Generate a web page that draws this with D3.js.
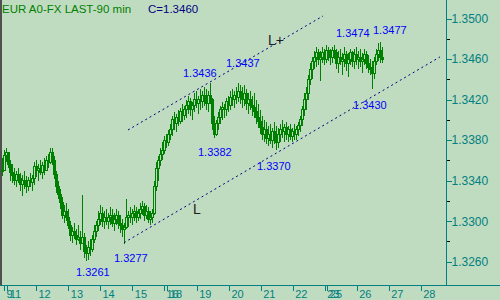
<!DOCTYPE html>
<html>
<head>
<meta charset="utf-8">
<script src="https://cdn.jsdelivr.net/npm/d3@7"></script>
<style>
  html, body { margin: 0; padding: 0; background: #c0dcc0; }
  svg { display: block; font-family: "Liberation Sans", Arial, sans-serif; }
</style>
</head>
<body>
<div id="chart"></div>
<script>
// DATA
// 90 minute bars, prices in pips (1/10000)
var high = [13362,13370,13372,13368,13360,13356,13352,13350,13352,13348,
            13346,13350,13345,13344,13348,13346,13358,13360,13356,13360,
            13358,13362,13364,13366,13372,13372,13364,13350,13340,13332,
            13324,13316,13318,13312,13300,13294,13298,13292,13296,13290,
            13326,13288,13276,13280,13282,13286,13296,13300,13310,13316,
            13314,13310,13312,13308,13314,13312,13308,13312,13310,13306,
            13302,13298,13322,13310,13314,13312,13316,13314,13312,13318,
            13320,13318,13316,13314,13310,13312,13340,13358,13364,13372,
            13378,13384,13386,13390,13396,13404,13408,13406,13410,13412,
            13416,13414,13420,13424,13422,13418,13426,13428,13424,13430,
            13428,13432,13430,13428,13436,13422,13404,13400,13408,13414,
            13418,13416,13422,13424,13428,13430,13428,13432,13436,13434,
            13432,13434,13430,13426,13428,13424,13426,13420,13416,13410,
            13404,13400,13398,13394,13396,13392,13398,13394,13392,13396,
            13400,13396,13398,13394,13396,13392,13396,13394,13398,13404,
            13414,13426,13432,13444,13456,13462,13468,13472,13470,13468,
            13472,13470,13474,13472,13470,13472,13474,13470,13468,13470,
            13466,13472,13468,13466,13470,13468,13470,13472,13468,13470,
            13466,13470,13468,13464,13460,13458,13462,13470,13476,13477,
            13472];
var low  = [13345,13352,13358,13352,13340,13338,13336,13334,13338,13330,
            13325,13332,13328,13330,13334,13330,13336,13344,13340,13346,
            13342,13346,13350,13352,13356,13355,13342,13328,13322,13312,
            13302,13298,13300,13292,13280,13278,13282,13276,13280,13272,
            13278,13264,13261,13262,13266,13270,13278,13284,13290,13296,
            13294,13292,13296,13292,13296,13294,13290,13296,13292,13288,
            13284,13277,13292,13294,13298,13296,13300,13298,13300,13302,
            13306,13300,13302,13298,13296,13298,13306,13330,13340,13354,
            13360,13366,13372,13374,13380,13384,13390,13388,13394,13396,
            13398,13400,13402,13406,13404,13400,13408,13412,13406,13410,
            13412,13414,13410,13408,13416,13390,13382,13384,13390,13396,
            13400,13402,13404,13408,13410,13414,13412,13416,13418,13416,
            13412,13414,13410,13406,13410,13404,13402,13396,13392,13386,
            13380,13378,13376,13374,13376,13372,13376,13370,13372,13378,
            13382,13378,13380,13378,13380,13378,13380,13380,13384,13388,
            13394,13404,13410,13420,13434,13440,13450,13452,13454,13438,
            13456,13454,13456,13458,13454,13456,13460,13450,13446,13454,
            13444,13452,13448,13442,13454,13452,13450,13454,13450,13452,
            13446,13454,13450,13446,13444,13430,13440,13454,13458,13456,
            13456];
var close = [13350,13365,13368,13356,13348,13345,13340,13346,13342,13336,
             13340,13338,13334,13340,13338,13342,13354,13350,13352,13348,
             13355,13350,13360,13358,13368,13360,13346,13334,13326,13318,
             13306,13310,13304,13296,13286,13290,13286,13282,13284,13278,
             13284,13270,13268,13274,13272,13282,13290,13296,13302,13308,
             13300,13304,13300,13304,13306,13298,13302,13306,13298,13296,
             13292,13294,13304,13306,13304,13308,13310,13304,13308,13312,
             13314,13306,13310,13302,13304,13308,13334,13352,13360,13366,
             13370,13380,13378,13386,13390,13400,13396,13402,13398,13408,
             13404,13410,13414,13418,13410,13414,13420,13416,13420,13418,
             13424,13420,13416,13424,13420,13396,13386,13396,13402,13410,
             13412,13410,13418,13414,13422,13420,13424,13422,13428,13424,
             13420,13426,13416,13420,13414,13412,13408,13402,13398,13392,
             13386,13390,13382,13386,13380,13388,13384,13378,13386,13390,
             13388,13392,13386,13390,13384,13388,13386,13390,13394,13400,
             13410,13420,13426,13440,13450,13458,13462,13466,13460,13462,
             13466,13460,13468,13464,13462,13468,13466,13456,13462,13458,
             13460,13464,13456,13460,13466,13458,13464,13460,13462,13458,
             13460,13464,13456,13452,13450,13446,13458,13464,13468,13462,
             13460];

// day separators on the time axis (bar position, label)
var dayBars   = [1, 2.6, 17, 33.15, 49, 65.15, 81, 82.65, 97.35, 113.5, 129.35, 145.35, 161.35, 162.65, 177.35, 193.35, 209.35];
var dayLabels = ["9", "11", "12", "13", "14", "15", "16", "18", "19", "20", "21", "22", "23", "25", "26", "27", "28"];

// price axis
var priceTicks = [1.3260, 1.3300, 1.3340, 1.3380, 1.3420, 1.3460, 1.3500];
var minorTicks = [1.3280, 1.3320, 1.3360, 1.3400, 1.3440, 1.3480];

// trend lines: [bar, price] pairs
var upperLine = [[63, 1.3390], [160.5, 1.35025]];
var lowerLine = [[61, 1.32788], [219, 1.34621]];

// marked highs / lows
var noteValue = [1.3436, 1.3437, 1.3474, 1.3477, 1.3430, 1.3382, 1.3370, 1.3261, 1.3277];
var noteBar   = [104, 113, 166, 189, 185, 106, 137, 42, 61];

var lastClose = 1.3460;

// LAYOUT
var width = 500, height = 300,
    axisX = 446.5, axisY = 285.5;

var x = d3.scaleLinear().domain([0, 219]).range([2, 440]);
var y = d3.scaleLinear().domain([1.3260, 1.3500]).range([261.7, 18.5]);

var green = "#008000", teal = "#008080", blue = "#0000ff", navy = "#000080", bg = "#c0dcc0";

var svg = d3.select("#chart").append("svg")
    .attr("width", width)
    .attr("height", height);

svg.append("rect")
    .attr("width", width).attr("height", height)
    .attr("fill", bg);

svg.append("rect")
    .attr("x", 0).attr("y", 0)
    .attr("width", 2).attr("height", axisY)
    .attr("fill", "#505050");

// Bars
var bars = high.map(function(h, i) {
    // FX bars open at the prior close
    return { i: i, h: h / 1e4, l: low[i] / 1e4, c: close[i] / 1e4, o: (i > 0 ? close[i - 1] : close[i]) / 1e4 };
});

var g = svg.append("g").attr("shape-rendering", "crispEdges");

g.selectAll(".wick")
    .data(bars)
  .enter().append("line")
    .attr("class", "wick")
    .attr("x1", function(d) { return Math.round(x(d.i)) + 0.5; })
    .attr("x2", function(d) { return Math.round(x(d.i)) + 0.5; })
    .attr("y1", function(d) { return y(d.h); })
    .attr("y2", function(d) { return y(d.l); })
    .attr("stroke", green)
    .attr("stroke-width", 1);

g.selectAll(".body")
    .data(bars)
  .enter().append("rect")
    .attr("class", "body")
    .attr("x", function(d) { return Math.round(x(d.i)) - 0.5; })
    .attr("width", 2)
    .attr("y", function(d) { return y(Math.max(d.o, d.c)); })
    .attr("height", function(d) { return Math.max(1, Math.abs(y(d.o) - y(d.c))); })
    .attr("fill", function(d) { return d.c >= d.o ? bg : green; })
    .attr("stroke", green)
    .attr("stroke-width", 1);

// Trend lines
[upperLine, lowerLine].forEach(function(pts) {
    svg.append("line")
        .attr("x1", x(pts[0][0])).attr("y1", y(pts[0][1]))
        .attr("x2", x(pts[1][0])).attr("y2", y(pts[1][1]))
        .attr("stroke", navy)
        .attr("stroke-width", 1)
        .attr("stroke-dasharray", "2,3");
});

function lineAt(pts, b) {
    var t = (b - pts[0][0]) / (pts[1][0] - pts[0][0]);
    return pts[0][1] + t * (pts[1][1] - pts[0][1]);
}

svg.append("text")
    .attr("x", x(133)).attr("y", y(lineAt(upperLine, 133)) - 3)
    .attr("font-size", 14).attr("fill", "#202020")
    .text("L+");

svg.append("text")
    .attr("x", x(95.5)).attr("y", y(lineAt(lowerLine, 95.5)) + 12)
    .attr("font-size", 14).attr("fill", "#202020")
    .text("L");

// Notes
var noteOffset = [[-27, -6.5], [-2, -15], [2, -7.5], [-7, -8], [-19, 19.5], [-16, 18], [-19, 20], [-10, 15.5], [-10, 17.5]];

svg.selectAll(".note")
    .data(noteValue)
  .enter().append("text")
    .attr("class", "note")
    .attr("x", function(d, i) { return x(noteBar[i]) + noteOffset[i][0]; })
    .attr("y", function(d, i) { return y(d) + noteOffset[i][1]; })
    .attr("font-size", 11)
    .attr("fill", blue)
    .text(function(d) { return d3.format(".4f")(d); });

// Axes
svg.append("line")
    .attr("x1", 0).attr("x2", width)
    .attr("y1", axisY).attr("y2", axisY)
    .attr("stroke", teal);

svg.append("line")
    .attr("x1", axisX).attr("x2", axisX)
    .attr("y1", 0).attr("y2", axisY)
    .attr("stroke", teal);

var yAxis = svg.append("g")
    .attr("transform", "translate(" + axisX + ",0)")
    .call(d3.axisRight(y).tickValues(priceTicks).tickSize(5).tickFormat(d3.format(".4f")));

svg.append("g")
    .attr("transform", "translate(" + axisX + ",0)")
    .call(d3.axisRight(y).tickValues(minorTicks).tickSize(3).tickFormat(""))
    .call(function(a) { a.select(".domain").remove(); });

yAxis.select(".domain").remove();
yAxis.selectAll("line").attr("stroke", teal);
yAxis.selectAll("text")
    .attr("x", 5)
    .attr("fill", teal)
    .attr("font-size", 12)
    .attr("font-family", "Liberation Sans, Arial, sans-serif");

var xAxis = svg.append("g")
    .attr("transform", "translate(0," + axisY + ")")
    .call(d3.axisBottom(x).tickValues(dayBars).tickSize(5)
        .tickFormat(function(d, i) { return dayLabels[i]; }));

xAxis.select(".domain").remove();
xAxis.selectAll("line").attr("stroke", teal);
xAxis.selectAll("text")
    .attr("text-anchor", "start")
    .attr("x", 2)
    .attr("y", 5)
    .attr("fill", teal)
    .attr("font-size", 11)
    .attr("font-family", "Liberation Sans, Arial, sans-serif");

svg.selectAll("g.tick line").attr("shape-rendering", "crispEdges");
svg.selectAll("line").filter(function() { return !this.getAttribute("stroke-dasharray"); })
    .attr("shape-rendering", "crispEdges");

// Title
svg.append("text")
    .attr("x", 2).attr("y", 12.5)
    .attr("font-size", 11.5)
    .attr("fill", green)
    .text("EUR A0-FX LAST-90 min");

svg.append("text")
    .attr("x", 148).attr("y", 12.5)
    .attr("font-size", 11.5)
    .attr("fill", navy)
    .text("C=" + d3.format(".4f")(lastClose));
</script>
</body>
</html>
